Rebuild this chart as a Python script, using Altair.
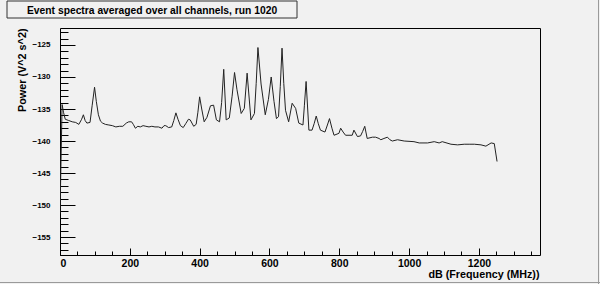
import altair as alt
import pandas as pd

# Spectrum (frequency in MHz, power)
freq = [0, 6, 10, 15, 25, 35, 45, 54, 62, 67, 72, 77, 86, 92, 99, 104, 110, 116, 122, 130,
        140, 150, 160, 170, 180, 190, 197, 205, 210, 216, 223, 230, 238, 246, 255, 263, 272,
        282, 292, 298, 303, 311, 320, 326, 332, 338, 345, 353, 360, 368, 373, 383, 390, 395,
        400, 406, 413, 421, 431, 440, 448, 457, 463, 469, 476, 485, 493, 500, 507, 519, 528,
        536, 547, 557, 562, 567, 576, 588, 597, 605, 613, 620, 626, 631, 636, 641, 646, 655,
        665, 675, 684, 696, 700, 705, 713, 722, 728, 734, 740, 746, 759, 766, 772, 779, 785,
        799, 804, 811, 818, 837, 842, 852, 861, 867, 873, 880, 895, 904, 914, 919, 928, 938,
        945, 952, 967, 986, 1014, 1029, 1053, 1072, 1086, 1095, 1120, 1139, 1158, 1172, 1187,
        1206, 1220, 1235, 1244, 1252]
power = [-151.3, -134.3, -135.5, -136.6, -136.8, -137.0, -137.1, -137.4, -136.6, -135.9,
         -136.8, -137.2, -137.1, -134.5, -131.6, -133.8, -135.9, -136.9, -137.2, -137.4,
         -137.5, -137.6, -137.8, -137.7, -137.7, -137.2, -137.0, -137.0, -137.4, -138.0,
         -137.7, -137.8, -137.6, -137.7, -137.8, -137.7, -137.8, -137.8, -138.0, -137.6,
         -137.6, -137.9, -137.8, -136.8, -135.6, -136.6, -137.6, -137.9, -137.3, -136.6,
         -136.7, -137.7, -137.4, -135.5, -133.1, -135.0, -137.0, -136.3, -134.5, -134.4,
         -136.7, -137.0, -134.0, -128.8, -136.7, -136.4, -133.0, -129.3, -132.0, -135.7,
         -134.9, -129.4, -136.7, -135.7, -131.0, -125.4, -131.1, -135.9, -133.5, -130.0,
         -133.8, -136.5, -136.2, -131.5, -125.5, -131.0, -135.2, -137.0, -134.1, -134.9,
         -137.2, -137.5, -134.5, -130.7, -138.3, -138.3, -137.3, -136.1, -137.3, -138.3,
         -138.6, -137.5, -136.5, -138.0, -139.1, -138.8, -138.0, -138.6, -139.1, -139.1,
         -138.3, -139.3, -139.2, -138.5, -137.7, -139.6, -139.4, -139.4, -139.6, -139.8,
         -139.6, -139.4, -139.8, -140.0, -139.8, -140.0, -140.1, -140.3, -140.3, -140.1,
         -140.3, -140.1, -140.5, -140.6, -140.5, -140.5, -140.5, -140.6, -140.8, -140.3,
         -140.4, -143.2]

x_major = [0, 200, 400, 600, 800, 1000, 1200]
x_minor = list(range(0, 1351, 50))
y_major = [-155, -150, -145, -140, -135, -130, -125]
y_minor = list(range(-157, -122))

title_text = "Event spectra averaged over all channels, run 1020"
x_title = "dB (Frequency (MHz))"
y_title = "Power (V^2 s^2)"

FONT = "Liberation Sans"
BG = "#f1f1f1"
W, H = 480, 227

df = pd.DataFrame({"freq": freq, "power": power})
one = pd.DataFrame({"k": [0]})
xs = alt.Scale(domain=[0, 1375], nice=False, zero=False)
ys = alt.Scale(domain=[-157.8, -122.35], nice=False, zero=False)

base = alt.Chart(df)

line = base.mark_line(color="#222222", strokeWidth=1, clip=True).encode(
    x=alt.X("freq:Q", scale=xs, axis=alt.Axis(
        orient="bottom", values=x_major, format="d", ticks=False, domain=False, grid=False,
        labelFont=FONT, labelFontWeight="bold", labelFontSize=10.5, labelColor="black",
        labelPadding=3, title=x_title, titleFont=FONT, titleFontSize=10.75,
        titleFontWeight="bold", titleColor="black", titleX=W - 1, titleY=19,
        titleAlign="right", titleBaseline="middle")),
    y=alt.Y("power:Q", scale=ys, axis=alt.Axis(
        orient="left", values=y_major, ticks=False, domain=False, grid=False,
        labelFont=FONT, labelFontWeight="bold", labelFontSize=8, labelColor="black",
        labelPadding=10, title=y_title, titleFont=FONT, titleFontSize=10.8,
        titleFontWeight="bold", titleColor="black", titleX=-38, titleY=0,
        titleAngle=270, titleAlign="right", titleBaseline="middle")),
)

major = base.mark_line(strokeOpacity=0).encode(
    x=alt.X("freq:Q", scale=xs, axis=alt.Axis(
        orient="top", offset=-H, values=x_major, labels=False, domain=False, grid=False,
        tickSize=7, tickColor="black", tickWidth=1, title=None)),
    y=alt.Y("power:Q", scale=ys, axis=alt.Axis(
        orient="right", offset=-W, values=y_major, labels=False, domain=False, grid=False,
        tickSize=15, tickColor="black", tickWidth=1, title=None)),
)

minor = base.mark_line(strokeOpacity=0).encode(
    x=alt.X("freq:Q", scale=xs, axis=alt.Axis(
        orient="top", offset=-H, values=x_minor, labels=False, domain=False, grid=False,
        tickSize=4, tickColor="black", tickWidth=1, title=None)),
    y=alt.Y("power:Q", scale=ys, axis=alt.Axis(
        orient="right", offset=-W, values=y_minor, labels=False, domain=False, grid=False,
        tickSize=8, tickColor="black", tickWidth=1, title=None)),
)

# title pave (box + text) and canvas bevel edges
box = alt.Chart(one).mark_rect(fill=BG, stroke="#333333", strokeWidth=1).encode(
    x=alt.value(-53), x2=alt.value(237), y=alt.value(-27), y2=alt.value(-10)
)
title = alt.Chart(one).mark_text(
    text=title_text, align="left", baseline="alphabetic", font=FONT, fontSize=10.3,
    fontWeight="bold", color="black"
).encode(x=alt.value(-33), y=alt.value(-14.5))
edge_b = alt.Chart(one).mark_rule(color="#9a9a9a", strokeWidth=1).encode(
    x=alt.value(-60), x2=alt.value(540), y=alt.value(254.5)
)
edge_r = alt.Chart(one).mark_rule(color="#9a9a9a", strokeWidth=1).encode(
    x=alt.value(538.5), y=alt.value(-28), y2=alt.value(256)
)

chart = alt.layer(box, title, edge_b, edge_r, line, major, minor).resolve_axis(
    x="independent", y="independent"
).properties(
    width=W, height=H,
    autosize=alt.AutoSizeParams(type="none"),
    padding={"left": 60, "top": 28, "right": 60, "bottom": 29},
    background=BG,
).configure_view(stroke="black", strokeWidth=1)

chart.save("out.html", embed_options={"renderer": "svg", "actions": False})
